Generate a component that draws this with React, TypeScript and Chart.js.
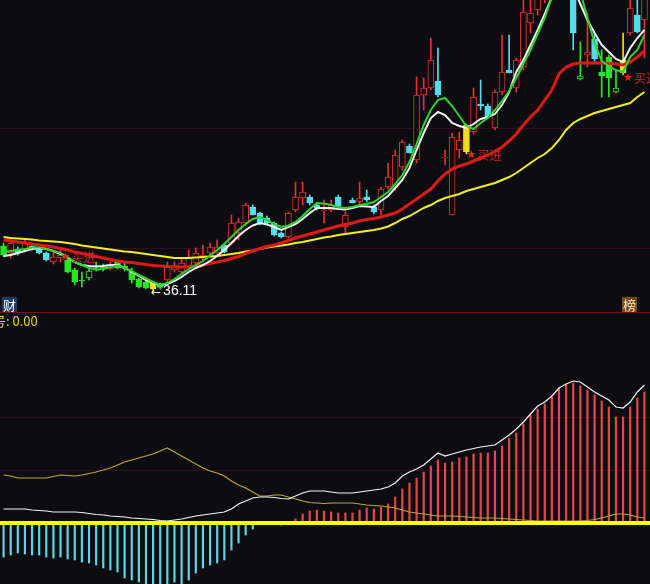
import React, { useEffect, useRef } from "react";
import { Chart, registerables } from "chart.js";

Chart.register(...registerables);

// ---------- categories ----------
const days: string[] = Array.from({ length: 91 }, (_, i) => `D${i + 1}`);

// ---------- candles ----------
const open = [
  40.7, 40.0, 40.4, 40.3, 40.7, 40.5, 40.0, 39.1, 39.5, 39.3,
  38.3, 37.3, 37.5, 38.7, 38.6, 38.4, 39.1, 38.7, 38.1, 37.4,
  37.1, 37.0, 36.8, 37.3, 38.3, 38.1, 38.6, 39.0, 39.6, 40.0,
  40.0, 40.8, 41.0, 42.0, 43.0, 44.6, 44.0, 43.5, 43.0, 42.0,
  41.6, 44.3, 45.5, 45.6, 44.8, 44.2, 44.3, 45.6, 42.6, 45.3,
  45.1, 45.6, 44.6, 44.3, 46.6, 46.5, 48.6, 50.7, 49.3, 55.8,
  56.5, 57.2, 49.5, 43.8, 50.3, 50.1, 52.1, 54.9, 54.7, 52.5,
  56.1, 58.3, 56.5, 58.6, 63.0, 64.3, 66.0, 67.8, 68.9, 67.5,
  66.5, 57.4, 59.8, 61.4, 58.1, 59.6, 56.1, 58.0, 62.0, 63.8,
  63.3,
];
const high = [
  41.0, 41.3, 40.6, 41.3, 40.8, 40.6, 40.1, 40.1, 40.3, 39.4,
  38.5, 38.1, 38.5, 39.1, 38.9, 39.1, 39.2, 39.0, 38.5, 37.5,
  37.3, 37.1, 37.0, 39.1, 39.1, 39.5, 40.3, 40.5, 40.8, 41.0,
  41.3, 40.9, 43.8, 43.5, 45.0, 44.8, 44.1, 43.7, 43.1, 42.1,
  44.1, 47.1, 47.1, 45.8, 45.0, 45.3, 45.3, 45.8, 44.1, 45.5,
  47.1, 46.3, 44.8, 46.6, 49.0, 50.3, 51.3, 50.9, 57.6, 57.5,
  61.5, 60.5, 50.3, 52.0, 52.1, 52.9, 56.5, 57.3, 54.9, 56.3,
  61.8, 61.8, 59.5, 65.8, 65.8, 69.3, 68.5, 70.0, 70.5, 69.0,
  67.5, 61.1, 64.0, 62.0, 60.3, 59.8, 58.3, 62.0, 66.0, 65.3,
  66.5,
];
const low = [
  39.6, 39.5, 39.8, 40.1, 40.3, 39.9, 39.2, 38.9, 39.1, 38.0,
  36.8, 36.6, 37.3, 38.2, 38.2, 38.3, 38.4, 38.2, 37.0, 36.5,
  36.4, 36.11, 36.4, 37.0, 38.1, 37.9, 38.5, 38.9, 39.1, 39.8,
  39.8, 40.0, 40.8, 41.3, 42.8, 43.8, 42.8, 42.8, 41.7, 41.5,
  41.5, 44.1, 44.8, 44.8, 44.3, 43.0, 44.1, 44.6, 42.0, 45.0,
  44.8, 45.1, 43.9, 43.8, 46.4, 46.3, 48.3, 50.0, 49.0, 54.3,
  56.3, 55.6, 48.8, 43.8, 49.5, 49.9, 51.9, 54.3, 53.5, 52.3,
  55.8, 58.0, 56.1, 58.3, 62.0, 63.8, 65.0, 66.5, 66.8, 65.8,
  60.3, 57.3, 58.6, 59.2, 55.6, 55.6, 56.0, 57.8, 61.8, 62.0,
  59.5,
];
const close = [
  39.8, 41.0, 40.0, 41.1, 40.4, 40.0, 39.3, 39.6, 39.8, 38.1,
  37.1, 37.2, 38.2, 38.6, 38.5, 38.9, 38.5, 38.5, 37.3, 36.6,
  36.5, 36.4, 36.55, 38.6, 38.8, 39.0, 39.6, 40.0, 39.8, 40.6,
  40.6, 40.1, 43.0, 43.1, 44.8, 43.8, 43.0, 43.0, 41.8, 41.6,
  44.0, 45.6, 46.1, 45.0, 44.5, 44.3, 44.8, 44.7, 43.8, 45.0,
  45.5, 45.3, 44.1, 46.4, 47.6, 49.8, 51.1, 50.0, 55.8, 56.5,
  59.3, 55.8, 49.6, 51.6, 51.3, 52.8, 55.6, 54.7, 53.6, 56.1,
  58.1, 58.0, 59.3, 64.1, 64.0, 67.3, 67.8, 68.9, 67.5, 66.2,
  62.0, 57.7, 60.1, 59.4, 57.7, 57.5, 56.5, 59.3, 64.5, 62.1,
  65.8,
];

// ---------- moving averages ----------
const maWhite = [
  39.7, 39.8, 40.0, 40.2, 40.4, 40.5, 40.4, 40.2, 39.9, 39.5,
  39.1, 38.8, 38.7, 38.65, 38.7, 38.8, 38.8, 38.5, 38.1, 37.7,
  37.3, 37.0, 36.8, 36.9, 37.2, 37.6, 38.1, 38.5, 38.8, 39.2,
  39.7, 40.3, 41.0, 41.7, 42.3, 42.75, 43.0, 42.85, 42.6, 42.3,
  42.6, 42.9, 43.4, 44.0, 44.5, 44.5, 44.5, 44.4, 44.35, 44.5,
  44.7, 44.65, 44.6, 45.2, 45.7, 46.5, 47.3, 48.5, 50.3, 52.0,
  53.5, 54.1, 53.8, 53.0, 52.7, 52.5, 52.9, 53.4, 53.6, 53.9,
  54.8, 56.1, 58.1, 59.3, 60.8, 62.3, 63.9, 65.6, 66.8, 67.1,
  66.5, 64.9, 63.3, 62.0, 60.8, 60.1, 59.4, 59.1, 60.5, 61.5,
  62.3,
];
const maGreen = [
  40.1, 40.2, 40.3, 40.4, 40.55, 40.55, 40.4, 40.2, 40.0, 39.6,
  39.1, 38.8, 38.5, 38.35, 38.4, 38.6, 38.75, 38.5, 38.2, 37.8,
  37.45, 37.1, 36.8, 37.0, 37.4, 37.9, 38.4, 38.8, 39.2, 39.75,
  40.3, 40.9, 41.6, 42.3, 42.9, 43.4, 43.6, 43.3, 42.9, 42.6,
  42.75, 43.1, 43.7, 44.4, 45.0, 44.95, 44.8, 44.6, 44.5, 44.6,
  44.8, 44.9, 45.1, 45.6, 46.1, 46.9, 47.8, 49.1, 50.9, 52.8,
  54.3, 55.3, 55.5, 54.7, 53.7, 52.7, 52.4, 53.0, 53.5, 54.3,
  55.2, 56.2, 57.5, 58.9, 60.3, 61.9, 63.5, 65.6, 66.8, 67.3,
  67.3, 66.1, 63.5, 61.0, 59.2, 58.7, 58.3, 58.1, 59.6, 60.3,
  61.8,
];
const maRed = [
  41.3, 41.2, 41.1, 41.0, 40.9, 40.8, 40.7, 40.6, 40.45, 40.3,
  40.1, 39.95, 39.8, 39.65, 39.5, 39.35, 39.2, 39.1, 39.05, 38.95,
  38.85, 38.75, 38.7, 38.65, 38.6, 38.6, 38.65, 38.7, 38.8, 38.95,
  39.1, 39.25, 39.45, 39.65, 39.95, 40.2, 40.45, 40.65, 40.8, 41.0,
  41.25, 41.5, 41.7, 41.9, 42.1, 42.3, 42.5, 42.7, 42.85, 43.0,
  43.2, 43.35, 43.45, 43.6, 43.8, 44.0, 44.4, 44.9, 45.4, 45.9,
  46.4, 47.2, 47.9, 48.4, 48.7, 48.9, 49.2, 49.5, 49.8, 50.15,
  50.6, 51.2, 51.9, 52.8, 53.6, 54.3, 55.3, 56.3, 57.9, 58.6,
  58.9, 59.0, 59.0, 59.0, 59.0, 58.95, 58.9, 58.8, 59.1, 59.6,
  60.2,
];
const maYellow = [
  41.6, 41.5, 41.45, 41.4, 41.35, 41.25, 41.2, 41.15, 41.1, 41.0,
  40.9, 40.75, 40.65, 40.55, 40.45, 40.35, 40.25, 40.15, 40.1, 40.0,
  39.9, 39.8, 39.7, 39.6, 39.5, 39.5, 39.5, 39.55, 39.6, 39.65,
  39.7, 39.8, 39.9, 40.0, 40.15, 40.25, 40.4, 40.55, 40.65, 40.75,
  40.85, 41.0, 41.1, 41.25, 41.4, 41.55, 41.65, 41.8, 41.9, 42.0,
  42.1, 42.2, 42.3, 42.45, 42.65, 43.0, 43.4, 43.7, 44.1, 44.5,
  44.8, 45.2, 45.5, 45.7, 45.9, 46.2, 46.4, 46.6, 46.8, 47.0,
  47.3, 47.6, 48.0, 48.5, 49.0, 49.5, 49.9, 50.5, 51.3, 52.3,
  53.0, 53.4, 53.7, 54.0, 54.2, 54.4, 54.6, 54.8, 55.0, 55.6,
  56.1,
];

// ---------- lower indicator ----------
const histo = [
  -0.34, -0.32, -0.30, -0.31, -0.32, -0.32, -0.34, -0.35, -0.34, -0.36,
  -0.37, -0.39, -0.40, -0.42, -0.45, -0.47, -0.49, -0.55, -0.57, -0.59,
  -0.61, -0.61, -0.61, -0.61, -0.59, -0.61, -0.57, -0.50, -0.45, -0.42,
  -0.40, -0.37, -0.27, -0.20, -0.12, -0.06, -0.01, 0, 0, -0.02,
  0, 0.04, 0.09, 0.12, 0.13, 0.12, 0.11, 0.10, 0.10, 0.10,
  0.13, 0.15, 0.14, 0.16, 0.19, 0.26, 0.34, 0.40, 0.45, 0.51,
  0.57, 0.63, 0.60, 0.61, 0.65, 0.66, 0.69, 0.70, 0.70, 0.72,
  0.77, 0.85, 0.90, 0.99, 1.08, 1.14, 1.19, 1.26, 1.35, 1.39,
  1.40, 1.37, 1.33, 1.28, 1.22, 1.16, 1.06, 1.06, 1.16, 1.25,
  1.31,
];
const dif = [
  0.14, 0.14, 0.14, 0.14, 0.13, 0.125, 0.12, 0.11, 0.11, 0.11,
  0.11, 0.105, 0.095, 0.085, 0.08, 0.07, 0.065, 0.06, 0.05, 0.045,
  0.04, 0.035, 0.025, 0.02, 0.03, 0.04, 0.055, 0.07, 0.08, 0.09,
  0.10, 0.11, 0.14, 0.19, 0.22, 0.25, 0.26, 0.26, 0.255, 0.245,
  0.24, 0.27, 0.30, 0.32, 0.32, 0.32, 0.31, 0.30, 0.30, 0.30,
  0.31, 0.32, 0.33, 0.34, 0.36, 0.40, 0.47, 0.51, 0.54, 0.58,
  0.64, 0.70, 0.67, 0.69, 0.71, 0.73, 0.745, 0.76, 0.77, 0.78,
  0.83, 0.88, 0.94, 1.01, 1.09, 1.17, 1.21, 1.27, 1.35, 1.39,
  1.42, 1.41, 1.36, 1.31, 1.27, 1.23, 1.16, 1.15, 1.21, 1.31,
  1.38,
];
const dea = [
  0.48, 0.47, 0.45, 0.45, 0.45, 0.45, 0.45, 0.465, 0.48, 0.475,
  0.47, 0.48, 0.495, 0.51, 0.53, 0.55, 0.58, 0.61, 0.63, 0.65,
  0.67, 0.69, 0.72, 0.75, 0.71, 0.67, 0.63, 0.59, 0.55, 0.52,
  0.50, 0.47, 0.42, 0.38, 0.35, 0.31, 0.27, 0.27, 0.28, 0.28,
  0.26, 0.24, 0.22, 0.205, 0.20, 0.195, 0.20, 0.20, 0.20, 0.20,
  0.19, 0.18, 0.175, 0.17, 0.16, 0.15, 0.13, 0.11, 0.10, 0.09,
  0.08, 0.07, 0.07, 0.07, 0.065, 0.06, 0.055, 0.05, 0.05, 0.05,
  0.045, 0.04, 0.035, 0.03, 0.025, 0.02, 0.02, 0.02, 0.02, 0.02,
  0.02, 0.02, 0.025, 0.035, 0.05, 0.07, 0.09, 0.09, 0.08, 0.06,
  0.05,
];

// ---------- markers / labels ----------
const greenBars = [0, 9, 10, 11, 12, 13, 14, 16, 17, 18, 19, 20, 22, 81, 84, 85, 86];
const signalBars = [21, 65, 87];
const buyBars = [8, 65, 87];
const buyLevels = [39.6, 49.8, 57.5];
const buyText = "买进";
const lowMarkIndex = 21;
const lowMarkValue = 36.11;
const priceGrid = [52.5, 40.5];
const indGrid = [1.06, 0.53];
const signalLabel = "号: 0.00";

// ---------- colours ----------
const BG = "#0d0d11";
const RED = "#e8302c";
const CYAN = "#55dcec";
const GREEN = "#22ea22";
const SIGNAL = "#f2e012";
const GRID = "#331019";

const isUp = (i: number) => close[i] >= open[i];
const bodyFill = days.map((_, i) => {
  if (signalBars.includes(i)) return SIGNAL;
  if (greenBars.includes(i)) return isUp(i) ? BG : GREEN;
  return isUp(i) ? BG : CYAN;
});
const bodyStroke = days.map((_, i) => {
  if (signalBars.includes(i)) return SIGNAL;
  if (greenBars.includes(i)) return GREEN;
  return isUp(i) ? RED : CYAN;
});

const topPlugin = {
  id: "topPlugin",
  beforeDraw(chart: any) {
    const { ctx, width, height } = chart;
    ctx.save();
    ctx.fillStyle = BG;
    ctx.fillRect(0, 0, width, height);
    ctx.restore();
  },
  beforeDatasetsDraw(chart: any) {
    const { ctx, width } = chart;
    const y = chart.scales.y;
    ctx.save();
    ctx.strokeStyle = GRID;
    ctx.lineWidth = 1;
    for (const v of priceGrid) {
      const py = Math.round(y.getPixelForValue(v)) + 0.5;
      ctx.beginPath();
      ctx.moveTo(0, py);
      ctx.lineTo(width, py);
      ctx.stroke();
    }
    ctx.restore();
  },
  afterDatasetsDraw(chart: any) {
    const { ctx, width, height } = chart;
    const x = chart.scales.x;
    const y = chart.scales.y;
    ctx.save();
    // buy markers
    ctx.textBaseline = "middle";
    buyBars.forEach((bi, k) => {
      const px = x.getPixelForValue(bi);
      const py = y.getPixelForValue(buyLevels[k]);
      ctx.fillStyle = "#f02020";
      ctx.font = "11px 'DejaVu Sans'";
      ctx.fillText("★", px, py);
      ctx.fillStyle = "#d82020";
      ctx.font = "12px 'Noto Sans CJK SC'";
      ctx.fillText(buyText, px + 11, py);
    });
    // low mark
    const lx = x.getPixelForValue(lowMarkIndex);
    const ly = y.getPixelForValue(lowMarkValue);
    ctx.fillStyle = "#f0e8e8";
    ctx.font = "12px 'DejaVu Sans'";
    ctx.fillText("←", lx - 2, ly + 1);
    ctx.font = "14px 'Liberation Sans'";
    ctx.fillStyle = "#ffffff";
    ctx.fillText(lowMarkValue.toFixed(2), lx + 10, ly - 1);
    // badges
    ctx.fillStyle = "#1b3a66";
    ctx.fillRect(2, 297, 15, 15);
    ctx.fillStyle = "#ffffff";
    ctx.font = "13px 'Noto Sans CJK SC'";
    ctx.textAlign = "center";
    ctx.fillText("财", 9.5, 305);
    ctx.fillStyle = "#7a4812";
    ctx.fillRect(622, 297, 15, 15);
    ctx.fillStyle = "#ffe6c8";
    ctx.fillText("榜", 629.5, 305);
    ctx.restore();
    // separator
    ctx.save();
    ctx.strokeStyle = "#6e1212";
    ctx.lineWidth = 1;
    ctx.beginPath();
    ctx.moveTo(0, height - 0.5);
    ctx.lineTo(width, height - 0.5);
    ctx.stroke();
    ctx.restore();
  },
};

const botPlugin = {
  id: "botPlugin",
  beforeDraw(chart: any) {
    const { ctx, width, height } = chart;
    ctx.save();
    ctx.fillStyle = BG;
    ctx.fillRect(0, 0, width, height);
    ctx.restore();
  },
  beforeDatasetsDraw(chart: any) {
    const { ctx, width } = chart;
    const y = chart.scales.y;
    ctx.save();
    ctx.strokeStyle = GRID;
    ctx.lineWidth = 1;
    for (const v of indGrid) {
      const py = Math.round(y.getPixelForValue(v)) + 0.5;
      ctx.beginPath();
      ctx.moveTo(0, py);
      ctx.lineTo(width, py);
      ctx.stroke();
    }
    ctx.restore();
  },
  afterDatasetsDraw(chart: any) {
    const { ctx, width } = chart;
    const y = chart.scales.y;
    ctx.save();
    const zy = y.getPixelForValue(0);
    ctx.strokeStyle = "#ffff1e";
    ctx.lineWidth = 4;
    ctx.beginPath();
    ctx.moveTo(0, zy);
    ctx.lineTo(width, zy);
    ctx.stroke();
    ctx.fillStyle = "#ecd430";
    ctx.font = "13px 'Noto Sans CJK SC'";
    ctx.textBaseline = "middle";
    ctx.fillText(signalLabel, -7, 8);
    ctx.restore();
  },
};

export default function App() {
  const topRef = useRef<HTMLCanvasElement>(null);
  const botRef = useRef<HTMLCanvasElement>(null);

  useEffect(() => {
    document.body.style.margin = "0";
    document.body.style.background = BG;

    const top = new Chart(topRef.current as HTMLCanvasElement, {
      type: "bar",
      data: {
        labels: days,
        datasets: [
          { type: "line", data: maGreen, borderColor: "#2cd42c", borderWidth: 2, pointRadius: 0, order: 0 },
          { type: "line", data: maWhite, borderColor: "#f4f4f4", borderWidth: 2, pointRadius: 0, order: 0 },
          { type: "line", data: maRed, borderColor: "#e01818", borderWidth: 3, pointRadius: 0, order: 0 },
          { type: "line", data: maYellow, borderColor: "#f0f020", borderWidth: 2, pointRadius: 0, order: 0 },
          {
            type: "bar",
            data: open.map((o, i) => [o, close[i]]),
            backgroundColor: bodyFill,
            borderColor: bodyStroke,
            borderWidth: 1,
            borderSkipped: false,
            barThickness: 6,
            grouped: false,
            order: 1,
          },
          {
            type: "bar",
            data: low.map((l, i) => [l, high[i]]),
            backgroundColor: bodyStroke,
            borderWidth: 0,
            barThickness: 1,
            grouped: false,
            order: 2,
          },
        ] as any,
      },
      options: {
        responsive: false,
        animation: false,
        devicePixelRatio: 1,
        events: [],
        layout: { padding: { left: 0, right: 2, top: 0, bottom: 0 } },
        plugins: { legend: { display: false }, tooltip: { enabled: false } },
        scales: {
          x: { type: "category", display: false, offset: true },
          y: { type: "linear", display: false, min: 34.0, max: 65.3 },
        },
      },
      plugins: [topPlugin],
    });

    const bot = new Chart(botRef.current as HTMLCanvasElement, {
      type: "bar",
      data: {
        labels: days,
        datasets: [
          { type: "line", data: dif, borderColor: "#f4f4f4", borderWidth: 1.2, pointRadius: 0, order: 0 },
          { type: "line", data: dea, borderColor: "#bca638", borderWidth: 1.2, pointRadius: 0, order: 0 },
          {
            type: "bar",
            data: histo,
            backgroundColor: histo.map((v) => (v >= 0 ? "#e44848" : "#5ad8e8")),
            borderWidth: 0,
            barThickness: 1.5,
            grouped: false,
            order: 1,
          },
        ] as any,
      },
      options: {
        responsive: false,
        animation: false,
        devicePixelRatio: 1,
        events: [],
        layout: { padding: { left: 0, right: 2, top: 0, bottom: 0 } },
        plugins: { legend: { display: false }, tooltip: { enabled: false } },
        scales: {
          x: { type: "category", display: false, offset: true },
          y: { type: "linear", display: false, min: -0.61, max: 2.1 },
        },
      },
      plugins: [botPlugin],
    });

    return () => {
      top.destroy();
      bot.destroy();
    };
  }, []);

  return (
    <div style={{ position: "fixed", left: 0, top: 0, width: 650, height: 584, background: BG }}>
      <canvas ref={topRef} width={650} height={313} style={{ display: "block" }} />
      <canvas ref={botRef} width={650} height={271} style={{ display: "block" }} />
    </div>
  );
}
